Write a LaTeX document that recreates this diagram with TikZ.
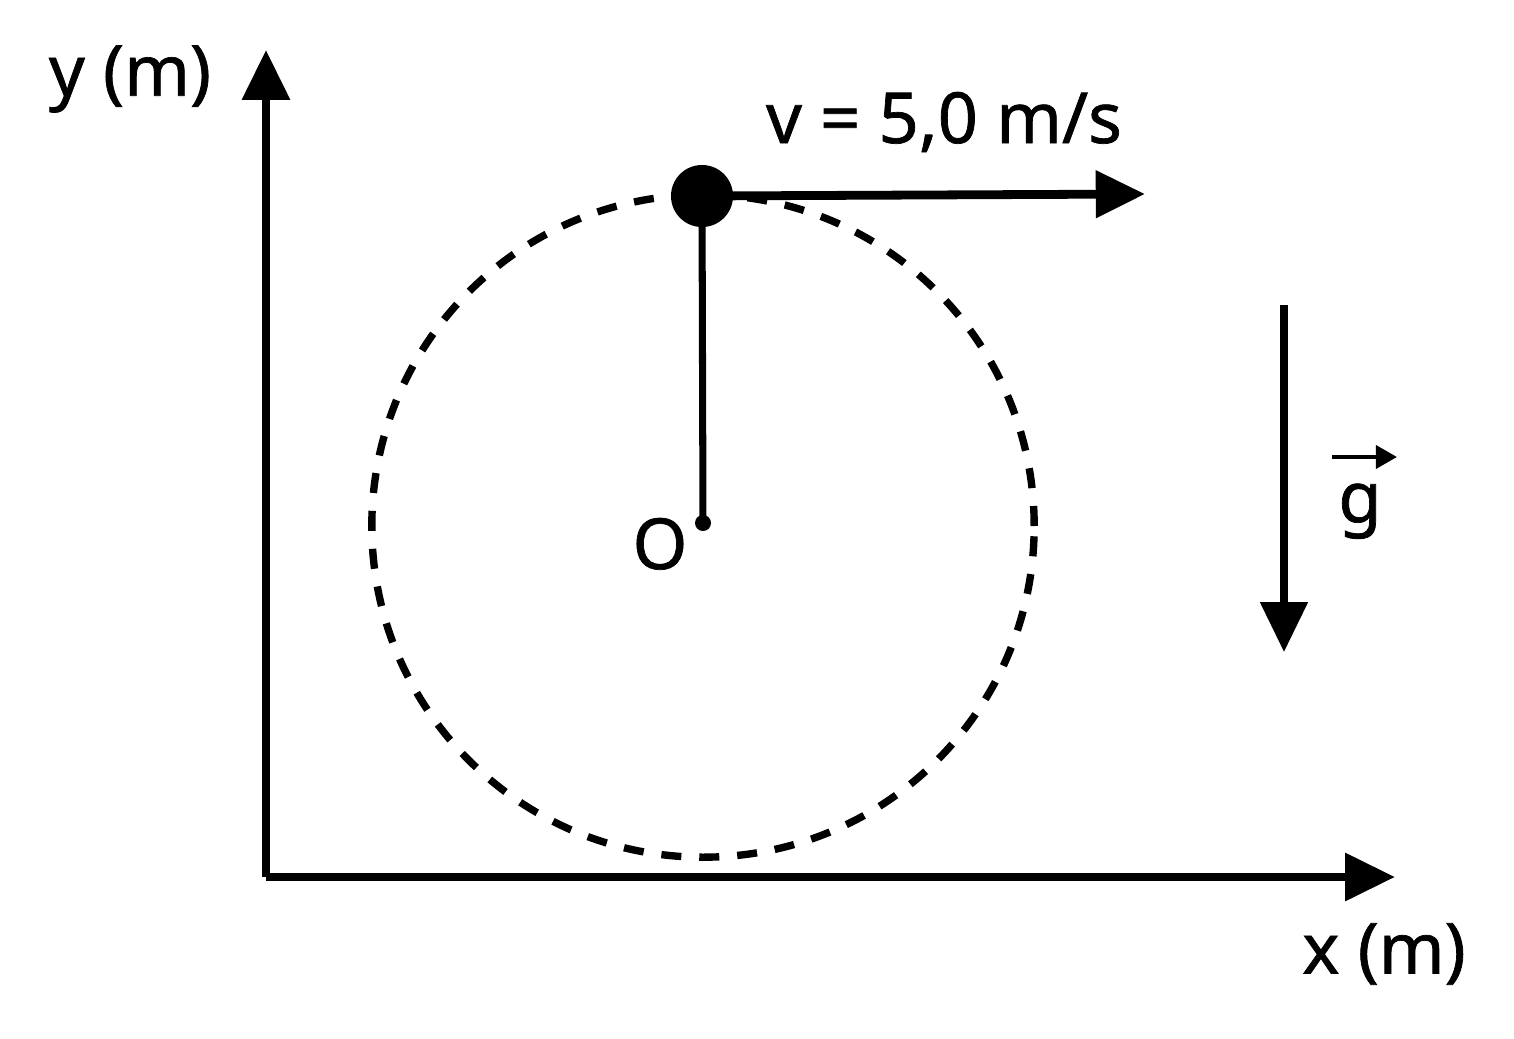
\documentclass[tikz,border=0pt]{standalone}
\usepackage{fontspec}
\setmainfont{Noto Sans}[FakeBold=1]
\usetikzlibrary{arrows.meta}
\begin{document}
\begin{tikzpicture}[x=0.01cm,y=-0.01cm,
  axis/.style={line width=2.4pt, -{Triangle[length=14.2pt,width=13.2pt]}},
  vecarrow/.style={line width=2.5pt, -{Triangle[length=14pt,width=13pt]}},
  gvec/.style={line width=1.2pt, -{Triangle[length=6pt,width=6.5pt]}},
  rod/.style={line width=2pt},
  orbit/.style={line width=2.1pt, dash pattern=on 5.7pt off 5.1pt},
  lbl/.style={font=\fontsize{20}{24}\selectfont, inner sep=0pt},
  dot/.style={circle, fill=black, inner sep=0pt}]
\useasboundingbox (0,0) rectangle (1514,1039);
% axes
\coordinate (orig) at (266,877);
\coordinate (ytip) at (266,50);
\coordinate (xtip) at (1395,877);
\draw[axis] (orig) -- (ytip);
\draw[axis] (orig) -- (xtip);
\node[lbl] (ylab) at (130,79) {y (m)};
\node[lbl] (xlab) at (1384,954) {x (m)};
% orbit
\coordinate (C) at (703,526);
\draw[orbit] (C) circle[radius=3.31cm];
% center and ball
\node[dot, minimum size=0.16cm] (O) at (703,523) {};
\node[dot, minimum size=0.62cm] (ball) at (702,196) {};
\draw[rod] (ball.center) -- (O.center);
\node[lbl, anchor=base] (Olab) at (660,569) {O};
% velocity
\coordinate (vtip) at (1145,194);
\draw[vecarrow] (ball.center) -- (vtip);
\node[lbl, anchor=base] (vlab) at (944,143) {v = 5,0 m/s};
% gravity
\coordinate (gtop) at (1284,305);
\coordinate (gbot) at (1284,652);
\draw[axis, line width=2pt] (gtop) -- (gbot);
\node[lbl, anchor=base] (g) at (1360,522) {g};
\coordinate (garrowL) at (1332,457);
\coordinate (garrowR) at (1397,457);
\draw[gvec] (garrowL) -- (garrowR);
\end{tikzpicture}
\end{document}
